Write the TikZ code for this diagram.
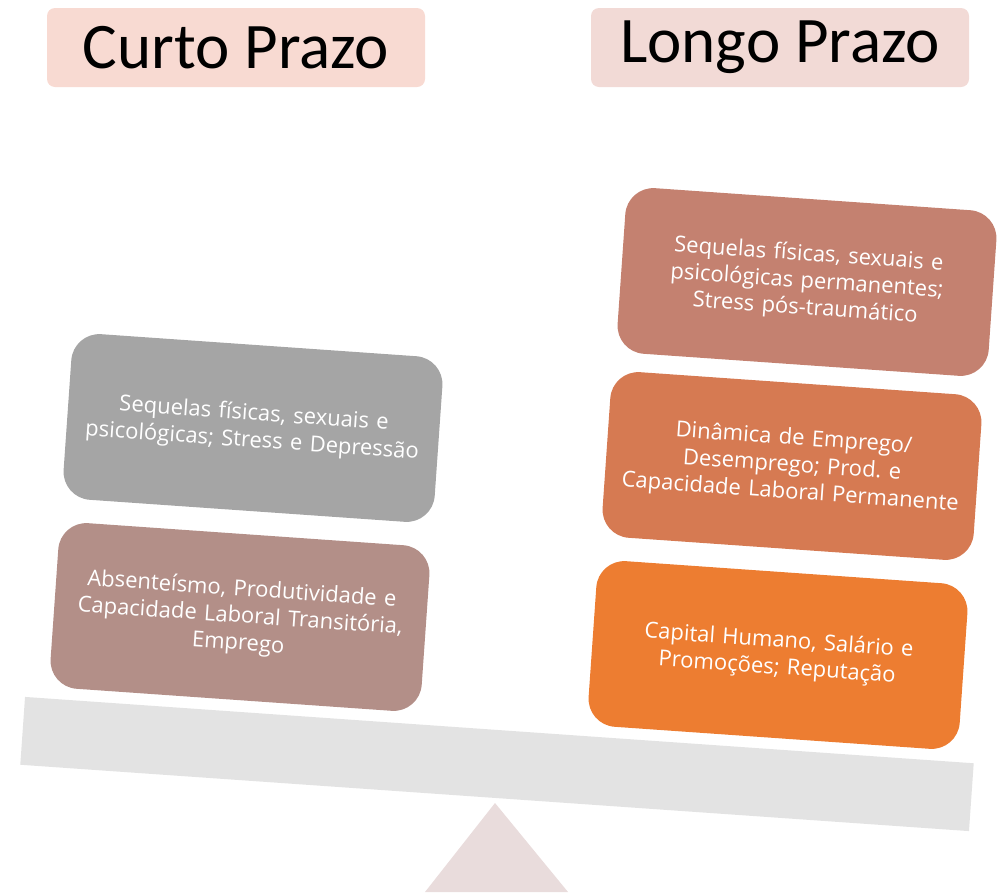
\documentclass[tikz,border=0pt]{standalone}
\usepackage{fontspec}
\setmainfont{Open Sans}
\newfontfamily\headfont{Carlito}

\definecolor{shortbg}{RGB}{248,218,210}
\definecolor{longbg}{RGB}{242,218,214}
\definecolor{greybox}{RGB}{165,165,165}
\definecolor{mauvebox}{RGB}{179,143,136}
\definecolor{rustbox}{RGB}{196,129,112}
\definecolor{clayebox}{RGB}{214,122,82}
\definecolor{orangebox}{RGB}{237,125,49}
\definecolor{beamgrey}{RGB}{227,227,227}
\definecolor{pivotpink}{RGB}{233,220,220}

\begin{document}
\begin{tikzpicture}[x=1pt,y=-1pt,
    headbox/.style={rounded corners=8pt,minimum width=378pt,minimum height=79pt,
      font=\headfont\fontsize{65}{70}\selectfont},
    effectbox/.style={rectangle,rounded corners=28pt,rotate=-4,minimum width=372pt,
      minimum height=166pt,text width=360pt,align=center,text=white,
      font=\fontsize{22}{27}\selectfont}]
    \useasboundingbox (0,0) rectangle (1004,892);
    % headings
    \node[headbox,fill=shortbg] (curto) at (236,47.5) {Curto Prazo};
    \node[headbox,fill=longbg] (longo) at (780,47.5) {Longo Prazo};
    % the see-saw
    \fill[pivotpink] (495,803) -- (425,892) -- (568,892) -- cycle;
    \node[rotate=-4,fill=beamgrey,minimum width=951pt,minimum height=68pt] (beam) at (497,764) {};
    % short term
    \node[effectbox,fill=greybox] (shortpsy) at (253,428)
      {Sequelas físicas, sexuais e\\psicológicas; Stress e Depressão};
    \node[effectbox,fill=mauvebox] (shortwork) at (240,617)
      {Absenteísmo, Produtividade e\\Capacidade Laboral Transitória,\\Emprego};
    % long term
    \node[effectbox,fill=rustbox] (longpsy) at (807,282)
      {Sequelas físicas, sexuais e\\psicológicas permanentes;\\Stress pós-traumático};
    \node[effectbox,fill=clayebox] (longwork) at (792,466)
      {Dinâmica de Emprego/\\Desemprego; Prod.\ e\\Capacidade Laboral Permanente};
    \node[effectbox,fill=orangebox] (longcap) at (778,655)
      {Capital Humano, Salário e\\Promoções; Reputação};
  \end{tikzpicture}
\end{document}
